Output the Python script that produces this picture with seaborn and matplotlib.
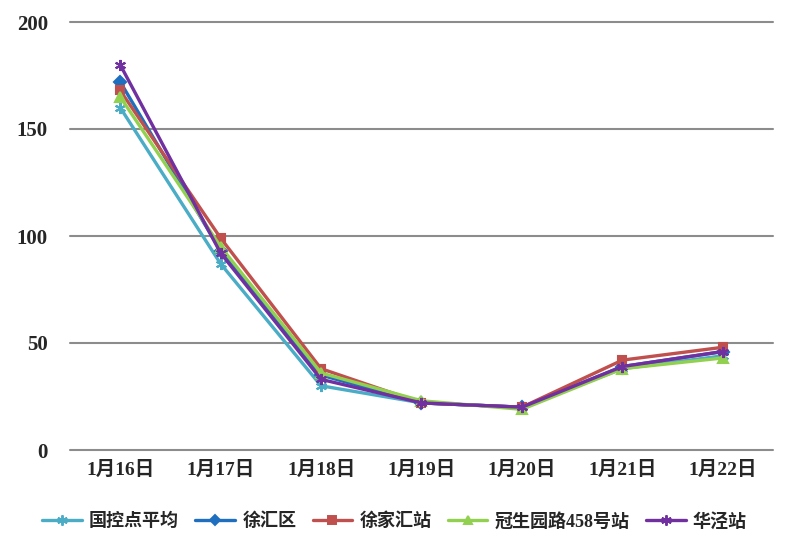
import matplotlib
matplotlib.use("Agg")
import matplotlib.pyplot as plt
import numpy as np
import pandas as pd
import seaborn as sb

dates = ["1月16日", "1月17日", "1月18日", "1月19日", "1月20日", "1月21日", "1月22日"]
guokong = [160, 87, 30, 22, 20, 38, 44]
xuhui = [172, 93, 35, 22, 20, 39, 46]
xujiahui = [168, 99, 38, 22, 20, 42, 48]
guanshengyuan = [165, 95, 36, 23, 19, 38, 43]
huajing = [180, 92, 33, 22, 20, 39, 46]

names = ["国控点平均", "徐汇区", "徐家汇站", "冠生园路458号站", "华泾站"]
series = [guokong, xuhui, xujiahui, guanshengyuan, huajing]
colors = ["#4BACC6", "#1F6FC0", "#C0504D", "#92D050", "#7030A0"]
markers = [(6, 2, 0), "D", "s", "^", (6, 2, 0)]
msizes = [8, 6, 6, 6.5, 8]

sb.set_style("white")
fam = ["Liberation Serif", "Noto Sans CJK SC"]
plt.rcParams["font.family"] = fam
plt.rcParams["font.weight"] = "bold"

fig = plt.figure(figsize=(7.89, 5.5), dpi=100)
ax = fig.add_axes([70/789, 100/550, 703/789, 428/550])

for y in range(0, 201, 50):
    ax.axhline(y, color="#8c8c8c", lw=1.5, zorder=0, clip_on=False)

for n, vals, c, m, ms in zip(names, series, colors, markers, msizes):
    d = pd.DataFrame({"date": range(len(dates)), "val": vals})
    sb.lineplot(data=d, x="date", y="val", color=c, marker=m, linewidth=2.4,
                markersize=ms, markeredgewidth=1.5, markeredgecolor=c, ax=ax)

ax.set_xlim(-0.5, 6.5)
ax.set_ylim(0, 200)
ax.set_yticks(range(0, 201, 50))
ax.set_xticks(range(len(dates)))
ax.set_xticklabels(dates)
ax.tick_params(axis="y", length=0, pad=16, labelsize=15)
ax.tick_params(axis="x", length=0, pad=8, labelsize=14)
for t in ax.get_xticklabels() + ax.get_yticklabels():
    t.set_fontweight("bold")
ax.set_xlabel("")
ax.set_ylabel("")
for s in ax.spines.values():
    s.set_visible(False)

handles = [plt.Line2D([], [], color=c, marker=m, lw=2.4, markersize=ms - 0.5,
                      markeredgewidth=1.4, markeredgecolor=c)
           for c, m, ms in zip(colors, markers, msizes)]
fig.legend(handles, names, loc="center", bbox_to_anchor=(0.5, 0.052), ncol=5,
           frameon=False, prop={"family": fam, "weight": "bold", "size": 13},
           handlelength=2.2, handletextpad=0.4, columnspacing=0.9)

fig.savefig("out.png", dpi=100)
